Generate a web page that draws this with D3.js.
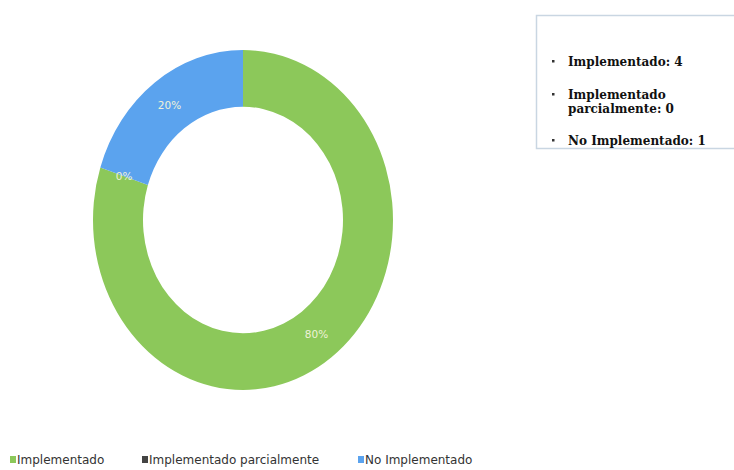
<!DOCTYPE html>
<html>
<head>
<meta charset="utf-8">
<script src="https://cdn.jsdelivr.net/npm/d3@7"></script>
<style>
  body { margin: 0; background: #fff; }
  svg { display: block; }
</style>
</head>
<body>
<svg id="chart" width="734" height="470"></svg>
<script>
var categories = ["Implementado", "Implementado parcialmente", "No Implementado"];
var values = [4, 0, 1];
var colors = ["#8cc85a", "#444444", "#5ba3ee"];
var tooltipLines = [["Implementado: 4"], ["Implementado", "parcialmente: 0"], ["No Implementado: 1"]];

var svg = d3.select("#chart");

var cx = 243, cy = 220, outerR = 150, innerR = 100, squash = 170 / 150;

var total = d3.sum(values);
var data = categories.map(function (c, i) {
  return { name: c, value: values[i], color: colors[i] };
});

var pie = d3.pie()
  .sort(null)
  .value(function (d) { return d.value; });

var arc = d3.arc()
  .innerRadius(innerR)
  .outerRadius(outerR);

var arcs = pie(data);

// ring (scanned picture is stretched vertically)
var ring = svg.append("g")
  .attr("transform", "translate(" + cx + "," + cy + ") scale(1," + squash + ")");

ring.selectAll("path")
  .data(arcs)
  .enter().append("path")
  .attr("d", arc)
  .attr("fill", function (d) { return d.data.color; });

// percent labels
svg.append("g")
  .selectAll("text")
  .data(arcs)
  .enter().append("text")
  .attr("x", function (d) { return cx + arc.centroid(d)[0]; })
  .attr("y", function (d) { return cy + arc.centroid(d)[1] * squash; })
  .attr("dy", "0.35em")
  .attr("text-anchor", "middle")
  .attr("font-family", "DejaVu Sans, sans-serif")
  .attr("font-size", 10.5)
  .attr("fill", "#eef2d8")
  .text(function (d) { return Math.round(d.data.value / total * 100) + "%"; });

// tooltip box
svg.append("rect")
  .attr("x", 536.5)
  .attr("y", 15.5)
  .attr("width", 210)
  .attr("height", 133)
  .attr("fill", "#fff")
  .attr("stroke", "#c9d6e2")
  .attr("stroke-width", 1.5);

var tip = svg.append("g")
  .attr("font-family", "DejaVu Serif, serif")
  .attr("font-weight", "bold")
  .attr("font-size", 12)
  .attr("fill", "#111");

var tipY = [66, 99, 145];
tooltipLines.forEach(function (lines, i) {
  tip.append("rect")
    .attr("x", 552)
    .attr("y", tipY[i] - 6)
    .attr("width", 2.5)
    .attr("height", 2.5)
    .attr("fill", "#333");
  lines.forEach(function (t, j) {
    tip.append("text")
      .attr("x", 568)
      .attr("y", tipY[i] + j * 14)
      .text(t);
  });
});

// legend
var legendX = [10, 142, 358];
var legend = svg.append("g")
  .selectAll("g")
  .data(data)
  .enter().append("g")
  .attr("transform", function (d, i) { return "translate(" + legendX[i] + ",464)"; });

legend.append("rect")
  .attr("x", 0)
  .attr("y", -8)
  .attr("width", 6)
  .attr("height", 7)
  .attr("fill", function (d) { return d.color; });

legend.append("text")
  .attr("x", 7)
  .attr("y", 0)
  .attr("font-family", "DejaVu Sans, sans-serif")
  .attr("font-size", 12)
  .attr("fill", "#333")
  .text(function (d) { return d.name; });
</script>
</body>
</html>
